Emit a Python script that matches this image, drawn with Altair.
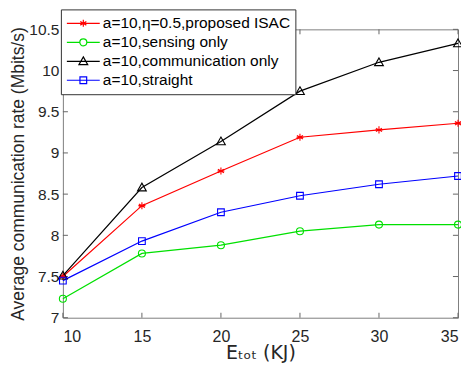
import altair as alt
import pandas as pd

energy = [10, 15, 20, 25, 30, 35]
series_names = [
    "a=10,η=0.5,proposed ISAC",
    "a=10,sensing only",
    "a=10,communication only",
    "a=10,straight",
]
proposed = [7.50, 8.36, 8.78, 9.19, 9.28, 9.36]
sensing = [7.23, 7.78, 7.88, 8.05, 8.13, 8.13]
communication = [7.51, 8.58, 9.14, 9.75, 10.10, 10.33]
straight = [7.45, 7.93, 8.28, 8.48, 8.62, 8.72]
colors = ["#FF0000", "#00E000", "#000000", "#0000FF"]

x_ticks = [10, 15, 20, 25, 30, 35]
y_ticks = [7, 7.5, 8, 8.5, 9, 9.5, 10, 10.5]
x_dom = [10, 35]
y_dom = [7, 10.5]

# marker paths (unit = sqrt(size)/2 px)
marker_paths = [
    "M0,-0.44L0,0.44M-0.38,-0.22L0.38,0.22M-0.38,0.22L0.38,-0.22M-0.44,0L0.44,0",
    "M0.44,0A0.44,0.44 0 1,1 -0.44,0A0.44,0.44 0 1,1 0.44,0Z",
    "M0,-0.55L0.55,0.42L-0.55,0.42Z",
    "M-0.42,-0.42L0.42,-0.42L0.42,0.42L-0.42,0.42Z",
]
# legend paths: line segment + marker, shifted so the line starts at the left edge
c = 1.06
legend_paths = [
    f"M-1,0L3.12,0M{c},-0.44L{c},0.44M{c-0.38},-0.22L{c+0.38},0.22M{c-0.38},0.22L{c+0.38},-0.22",
    f"M-1,0L{c-0.44},0M{c+0.44},0L3.12,0M{c+0.44},0A0.44,0.44 0 1,1 {c-0.44},0A0.44,0.44 0 1,1 {c+0.44},0Z",
    f"M-1,0L3.12,0M{c},-0.55L{c+0.55},0.42L{c-0.55},0.42Z",
    f"M-1,0L3.12,0M{c-0.42},-0.42L{c+0.42},-0.42L{c+0.42},0.42L{c-0.42},0.42Z",
]

rows = []
for name, vals in zip(series_names, [proposed, sensing, communication, straight]):
    for e, v in zip(energy, vals):
        rows.append({"E": e, "rate": v, "series": name, "lg": name})
df = pd.DataFrame(rows)

xs = alt.Scale(domain=x_dom, nice=False, zero=False)
ys = alt.Scale(domain=y_dom, nice=False, zero=False)
cs = alt.Scale(domain=series_names, range=colors)

FONT = "Liberation Sans"

base = alt.Chart(df)
lines = base.mark_line(strokeWidth=1.2).encode(
    x=alt.X("E:Q", scale=xs,
            axis=alt.Axis(values=x_ticks, title="Eₜₒₜ (KJ)", grid=False, domain=False,
                          ticks=False, labelFontSize=16, titleFontSize=19,
                          labelPadding=11, titlePadding=-1, labelColor="#262626",
                          titleColor="#262626", titleFontWeight="normal", labelFont=FONT,
                          titleFont="DejaVu Sans", format="d")),
    y=alt.Y("rate:Q", scale=ys,
            axis=alt.Axis(values=y_ticks, title="Average communication rate (Mbits/s)",
                          grid=False, domain=False, ticks=False, labelFontSize=15.5,
                          titleFontSize=17.5, labelPadding=4, titlePadding=1,
                          labelColor="#262626", titleColor="#262626",
                          titleFontWeight="normal", labelFont=FONT, titleFont=FONT,
                          format="~g")),
    color=alt.Color("series:N", scale=cs, legend=None),
    detail="series:N",
)
points = base.mark_point(filled=False, size=256, strokeWidth=1.1, opacity=1).encode(
    x=alt.X("E:Q", scale=xs),
    y=alt.Y("rate:Q", scale=ys),
    color=alt.Color("series:N", scale=cs, legend=None),
    shape=alt.Shape("series:N", scale=alt.Scale(domain=series_names, range=marker_paths),
                    legend=None),
)
legend_layer = base.mark_point(filled=False, size=256, strokeWidth=1, opacity=0).encode(
    x=alt.X("E:Q", scale=xs),
    y=alt.Y("rate:Q", scale=ys),
    shape=alt.Shape("lg:N", scale=alt.Scale(domain=series_names, range=legend_paths),
                    legend=alt.Legend(title=None, orient="none", legendX=-2, legendY=-20,
                                      symbolSize=256, symbolOpacity=1,
                                      symbolStrokeWidth=1.2, labelFontSize=15.5,
                                      labelFont=FONT, labelColor="#000000",
                                      labelOffset=19, rowPadding=1, padding=5,
                                      fillColor="white", strokeColor="#333333",
                                      labelLimit=400,
                                      symbolStrokeColor={"expr": "scale('color', datum.value)"})),
)

tick_x = pd.DataFrame({"t": x_ticks})
tick_y = pd.DataFrame({"t": y_ticks})
tk = dict(color="#666666", strokeWidth=1)
xt_bot = alt.Chart(tick_x).mark_rule(**tk).encode(
    x=alt.X("t:Q", scale=xs), y=alt.Y("lo:Q", scale=ys),
    y2="hi:Q").transform_calculate(lo=str(y_dom[0]), hi=str(y_dom[0] + 0.06))
xt_top = alt.Chart(tick_x).mark_rule(**tk).encode(
    x=alt.X("t:Q", scale=xs), y=alt.Y("lo:Q", scale=ys),
    y2="hi:Q").transform_calculate(lo=str(y_dom[1] - 0.06), hi=str(y_dom[1]))
yt_left = alt.Chart(tick_y).mark_rule(**tk).encode(
    y=alt.Y("t:Q", scale=ys), x=alt.X("lo:Q", scale=xs),
    x2="hi:Q").transform_calculate(lo=str(x_dom[0]), hi=str(x_dom[0] + 0.32))
yt_right = alt.Chart(tick_y).mark_rule(**tk).encode(
    y=alt.Y("t:Q", scale=ys), x=alt.X("lo:Q", scale=xs),
    x2="hi:Q").transform_calculate(lo=str(x_dom[1] - 0.32), hi=str(x_dom[1]))

chart = alt.layer(xt_bot, xt_top, yt_left, yt_right, lines, points, legend_layer).resolve_scale(
    shape="independent"
).resolve_legend(shape="independent").properties(
    width=396, height=289,
    padding={"left": 55, "top": 21, "right": 3, "bottom": 48},
    autosize=alt.AutoSizeParams(type="none"),
    background="white",
).configure_view(stroke="#7f7f7f", strokeWidth=1)

chart.save("out.html", embed_options={"renderer": "svg", "actions": False})
